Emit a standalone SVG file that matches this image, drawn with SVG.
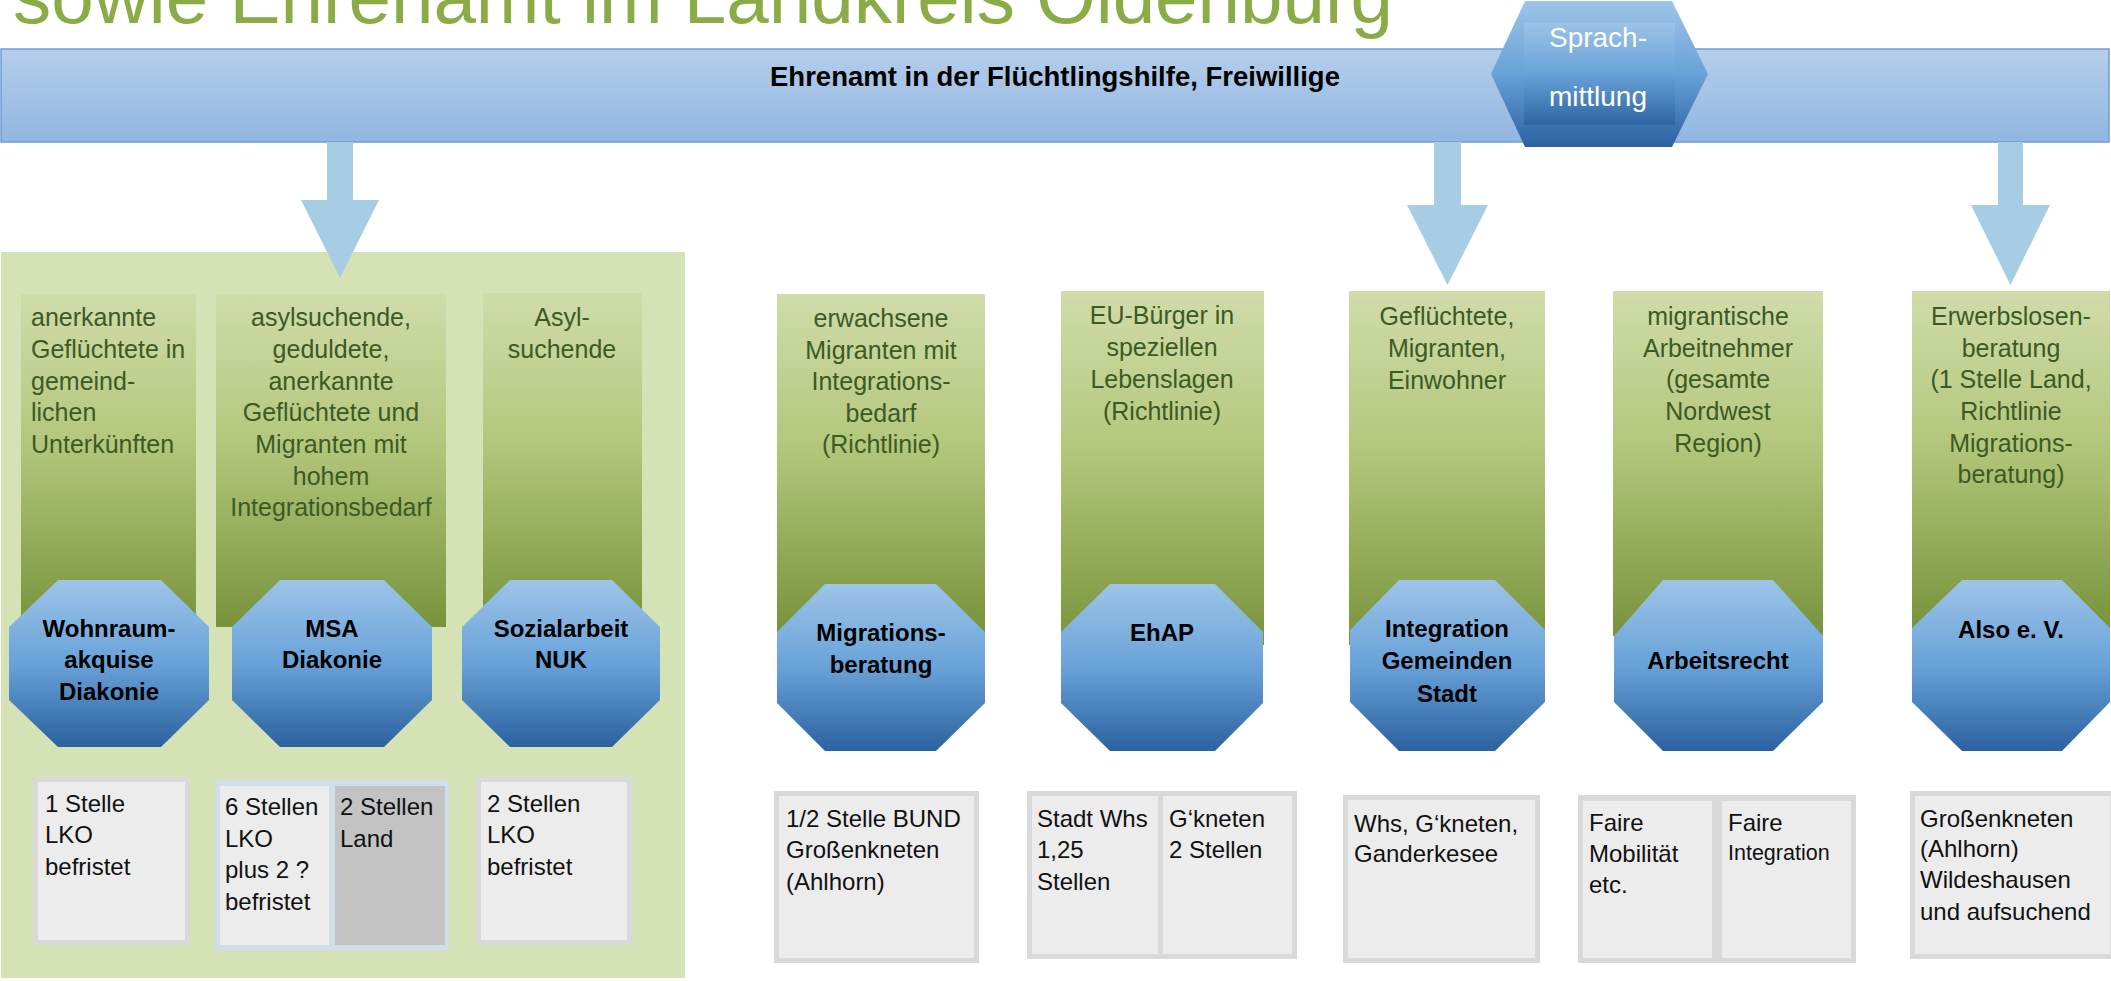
<svg xmlns="http://www.w3.org/2000/svg" width="2111" height="981" viewBox="0 0 2111 981">
  <defs>
    <linearGradient id="gBar" x1="0" y1="0" x2="0" y2="1">
      <stop offset="0" stop-color="#b5ceea"/>
      <stop offset="1" stop-color="#91b6e2"/>
    </linearGradient>
    <linearGradient id="gBlue" x1="0" y1="0" x2="0" y2="1">
      <stop offset="0" stop-color="#9ec4e8"/>
      <stop offset="0.5" stop-color="#68a2d8"/>
      <stop offset="1" stop-color="#2b619f"/>
    </linearGradient>
    <linearGradient id="gCol" x1="0" y1="0" x2="0" y2="1">
      <stop offset="0" stop-color="#d0dcaa"/>
      <stop offset="0.45" stop-color="#b3c77c"/>
      <stop offset="1" stop-color="#78933b"/>
    </linearGradient>
    <style>
      .title { font-family: "Liberation Sans", Arial, sans-serif; font-size: 76px; fill: #8bab46; }
      .bar { fill: url(#gBar); stroke: #6d9cd6; stroke-width: 1.5; }
      .bartxt { font-family: "Liberation Sans", Arial, sans-serif; font-size: 27.5px; font-weight: bold; fill: #000; text-anchor: middle; }
      .hex { fill: url(#gBlue); }
      .hexin { fill: url(#gBlue); opacity: 0.85; }
      .hextxt { font-family: "Liberation Sans", Arial, sans-serif; font-size: 28px; fill: #fff; text-anchor: middle; }
      .arrow { fill: #a6cde4; }
      .panel { fill: #d5e2b6; }
      .col { fill: url(#gCol); }
      .coltxt { font-family: "Liberation Sans", Arial, sans-serif; font-size: 25px; fill: #3d5a24; text-anchor: middle; }
      .coltxt.left { text-anchor: start; }
      .oct { fill: url(#gBlue); }
      .octtxt { font-family: "Liberation Sans", Arial, sans-serif; font-size: 24px; font-weight: bold; fill: #000; text-anchor: middle; }
      .box { fill: #ececec; stroke: #d9d9d9; stroke-width: 5; }
      .frame { fill: #d9d9d9; }
      .frameblue { fill: #d0dee9; }
      .cell { fill: #ececec; }
      .cellgray { fill: #c3c3c3; }
      .boxtxt { font-family: "Liberation Sans", Arial, sans-serif; font-size: 24px; fill: #111; }
      .small { font-size: 21.5px; }
    </style>
  </defs>

  <rect width="2111" height="981" fill="#ffffff"/>

  <!-- page heading, partly above the top edge -->
  <text class="title" x="13" y="23" textLength="1380" lengthAdjust="spacingAndGlyphs">sowie Ehrenamt im Landkreis Oldenburg</text>

  <!-- volunteer bar -->
  <g id="ehrenamt">
    <rect class="bar" x="1" y="49" width="2108" height="93"/>
    <text class="bartxt" x="1055" y="86">Ehrenamt in der Flüchtlingshilfe, Freiwillige</text>
  </g>

  <!-- language mediation hexagon -->
  <g id="sprachmittlung">
    <polygon class="hex" points="1525,1 1672,1 1708,74 1672,147 1525,147 1491,74"/>
    <rect class="hexin" x="1524" y="23" width="151" height="102"/>
    <text class="hextxt" x="1598" y="47">Sprach-</text>
    <text class="hextxt" x="1598" y="106">mittlung</text>
  </g>

  <!-- background panel for the Diakonie / NUK services -->
  <rect id="panel-links" class="panel" x="1" y="252" width="684" height="726"/>

  <!-- down arrows from the volunteer bar -->
  <g id="connectors">
    <polygon class="arrow" points="327,142 353,142 353,200 379,200 340,278 301,200 327,200"/>
    <polygon class="arrow" points="1434,142 1461,142 1461,205 1488,205 1447.5,285 1407,205 1434,205"/>
    <polygon class="arrow" points="1998,142 2023,142 2023,205 2050,205 2010.5,285 1971,205 1998,205"/>
  </g>

  <!-- Wohnraumakquise -->
  <g id="wohnraum">
    <rect class="col" x="21" y="294" width="175" height="333"/>
    <text class="coltxt left" x="31" y="326">anerkannte</text>
    <text class="coltxt left" x="31" y="358">Geflüchtete in</text>
    <text class="coltxt left" x="31" y="390">gemeind-</text>
    <text class="coltxt left" x="31" y="421">lichen</text>
    <text class="coltxt left" x="31" y="453">Unterkünften</text>
    <polygon class="oct" points="58,580 161,580 209,627 209,700 161,747 58,747 9,700 9,627"/>
    <text class="octtxt" x="109" y="637">Wohnraum-</text>
    <text class="octtxt" x="109" y="668">akquise</text>
    <text class="octtxt" x="109" y="700">Diakonie</text>
    <rect class="box" x="35.5" y="779.5" width="152" height="163"/>
    <text class="boxtxt" x="45" y="812">1 Stelle</text>
    <text class="boxtxt" x="45" y="843">LKO</text>
    <text class="boxtxt" x="45" y="875">befristet</text>
  </g>

  <!-- MSA Diakonie -->
  <g id="msa">
    <rect class="col" x="216" y="294" width="230" height="333"/>
    <text class="coltxt" x="331" y="326">asylsuchende,</text>
    <text class="coltxt" x="331" y="358">geduldete,</text>
    <text class="coltxt" x="331" y="390">anerkannte</text>
    <text class="coltxt" x="331" y="421">Geflüchtete und</text>
    <text class="coltxt" x="331" y="453">Migranten mit</text>
    <text class="coltxt" x="331" y="485">hohem</text>
    <text class="coltxt" x="331" y="516">Integrationsbedarf</text>
    <polygon class="oct" points="280,580 384,580 432,627 432,700 384,747 280,747 232,700 232,627"/>
    <text class="octtxt" x="332" y="637">MSA</text>
    <text class="octtxt" x="332" y="668">Diakonie</text>
    <rect class="frameblue" x="215" y="780" width="234" height="170"/>
    <rect class="cell" x="220" y="786" width="109" height="159"/>
    <rect class="cellgray" x="335" y="786" width="110" height="159"/>
    <text class="boxtxt" x="225" y="815">6 Stellen</text>
    <text class="boxtxt" x="225" y="847">LKO</text>
    <text class="boxtxt" x="225" y="878">plus 2 ?</text>
    <text class="boxtxt" x="225" y="910">befristet</text>
    <text class="boxtxt" x="340" y="815">2 Stellen</text>
    <text class="boxtxt" x="340" y="847">Land</text>
  </g>

  <!-- Sozialarbeit NUK -->
  <g id="nuk">
    <rect class="col" x="483" y="293" width="159" height="334"/>
    <text class="coltxt" x="562" y="326">Asyl-</text>
    <text class="coltxt" x="562" y="358">suchende</text>
    <polygon class="oct" points="510,580 612,580 660,627 660,700 612,747 510,747 462,700 462,627"/>
    <text class="octtxt" x="561" y="637">Sozialarbeit</text>
    <text class="octtxt" x="561" y="668">NUK</text>
    <rect class="box" x="478.5" y="779.5" width="151" height="163"/>
    <text class="boxtxt" x="487" y="812">2 Stellen</text>
    <text class="boxtxt" x="487" y="843">LKO</text>
    <text class="boxtxt" x="487" y="875">befristet</text>
  </g>

  <!-- Migrationsberatung -->
  <g id="migrationsberatung">
    <rect class="col" x="777" y="294" width="208" height="338"/>
    <text class="coltxt" x="881" y="327">erwachsene</text>
    <text class="coltxt" x="881" y="359">Migranten mit</text>
    <text class="coltxt" x="881" y="390">Integrations-</text>
    <text class="coltxt" x="881" y="422">bedarf</text>
    <text class="coltxt" x="881" y="453">(Richtlinie)</text>
    <polygon class="oct" points="825,584 936,584 985,632 985,703 936,751 825,751 777,703 777,632"/>
    <text class="octtxt" x="881" y="641">Migrations-</text>
    <text class="octtxt" x="881" y="673">beratung</text>
    <rect class="box" x="776.5" y="793.5" width="200" height="167"/>
    <text class="boxtxt" x="786" y="827">1/2 Stelle BUND</text>
    <text class="boxtxt" x="786" y="858">Großenkneten</text>
    <text class="boxtxt" x="786" y="890">(Ahlhorn)</text>
  </g>

  <!-- EhAP -->
  <g id="ehap">
    <rect class="col" x="1061" y="291" width="203" height="354"/>
    <text class="coltxt" x="1162" y="324">EU-Bürger in</text>
    <text class="coltxt" x="1162" y="356">speziellen</text>
    <text class="coltxt" x="1162" y="388">Lebenslagen</text>
    <text class="coltxt" x="1162" y="420">(Richtlinie)</text>
    <polygon class="oct" points="1110,584 1215,584 1263,632 1263,703 1215,751 1110,751 1061,703 1061,632"/>
    <text class="octtxt" x="1162" y="641">EhAP</text>
    <rect class="frame" x="1027" y="791" width="270" height="168"/>
    <rect class="cell" x="1032" y="796" width="126" height="158"/>
    <rect class="cell" x="1163" y="796" width="129" height="158"/>
    <text class="boxtxt" x="1037" y="827">Stadt Whs</text>
    <text class="boxtxt" x="1037" y="858">1,25</text>
    <text class="boxtxt" x="1037" y="890">Stellen</text>
    <text class="boxtxt" x="1169" y="827">G‘kneten</text>
    <text class="boxtxt" x="1169" y="858">2 Stellen</text>
  </g>

  <!-- Integration Gemeinden Stadt -->
  <g id="integration">
    <rect class="col" x="1349" y="291" width="196" height="354"/>
    <text class="coltxt" x="1447" y="325">Geflüchtete,</text>
    <text class="coltxt" x="1447" y="357">Migranten,</text>
    <text class="coltxt" x="1447" y="389">Einwohner</text>
    <polygon class="oct" points="1399,580 1495,580 1545,630 1545,702 1495,751 1399,751 1350,702 1350,630"/>
    <text class="octtxt" x="1447" y="637">Integration</text>
    <text class="octtxt" x="1447" y="669">Gemeinden</text>
    <text class="octtxt" x="1447" y="702">Stadt</text>
    <rect class="box" x="1345.5" y="797.5" width="192" height="163"/>
    <text class="boxtxt" x="1354" y="832">Whs, G‘kneten,</text>
    <text class="boxtxt" x="1354" y="862">Ganderkesee</text>
  </g>

  <!-- Arbeitsrecht -->
  <g id="arbeitsrecht">
    <rect class="col" x="1613" y="291" width="210" height="345"/>
    <text class="coltxt" x="1718" y="325">migrantische</text>
    <text class="coltxt" x="1718" y="357">Arbeitnehmer</text>
    <text class="coltxt" x="1718" y="388">(gesamte</text>
    <text class="coltxt" x="1718" y="420">Nordwest</text>
    <text class="coltxt" x="1718" y="452">Region)</text>
    <polygon class="oct" points="1663,580 1773,580 1823,636 1823,702 1773,751 1663,751 1614,702 1614,636"/>
    <text class="octtxt" x="1718" y="669">Arbeitsrecht</text>
    <rect class="frame" x="1578" y="795" width="278" height="168"/>
    <rect class="cell" x="1583" y="801" width="129" height="157"/>
    <rect class="cell" x="1722" y="801" width="129" height="157"/>
    <text class="boxtxt" x="1589" y="831">Faire</text>
    <text class="boxtxt" x="1589" y="862">Mobilität</text>
    <text class="boxtxt" x="1589" y="893">etc.</text>
    <text class="boxtxt" x="1728" y="831">Faire</text>
    <text class="boxtxt small" x="1728" y="860">Integration</text>
  </g>

  <!-- Also e. V. -->
  <g id="also">
    <rect class="col" x="1912" y="291" width="198" height="338"/>
    <text class="coltxt" x="2011" y="325">Erwerbslosen-</text>
    <text class="coltxt" x="2011" y="357">beratung</text>
    <text class="coltxt" x="2011" y="388">(1 Stelle Land,</text>
    <text class="coltxt" x="2011" y="420">Richtlinie</text>
    <text class="coltxt" x="2011" y="452">Migrations-</text>
    <text class="coltxt" x="2011" y="483">beratung)</text>
    <polygon class="oct" points="1962,580 2062,580 2110,628 2110,702 2062,751 1962,751 1912,702 1912,628"/>
    <text class="octtxt" x="2011" y="638">Also e. V.</text>
    <rect class="box" x="1912.5" y="793.5" width="200" height="163"/>
    <text class="boxtxt" x="1920" y="827">Großenkneten</text>
    <text class="boxtxt" x="1920" y="857">(Ahlhorn)</text>
    <text class="boxtxt" x="1920" y="888">Wildeshausen</text>
    <text class="boxtxt" x="1920" y="920">und aufsuchend</text>
  </g>
</svg>
